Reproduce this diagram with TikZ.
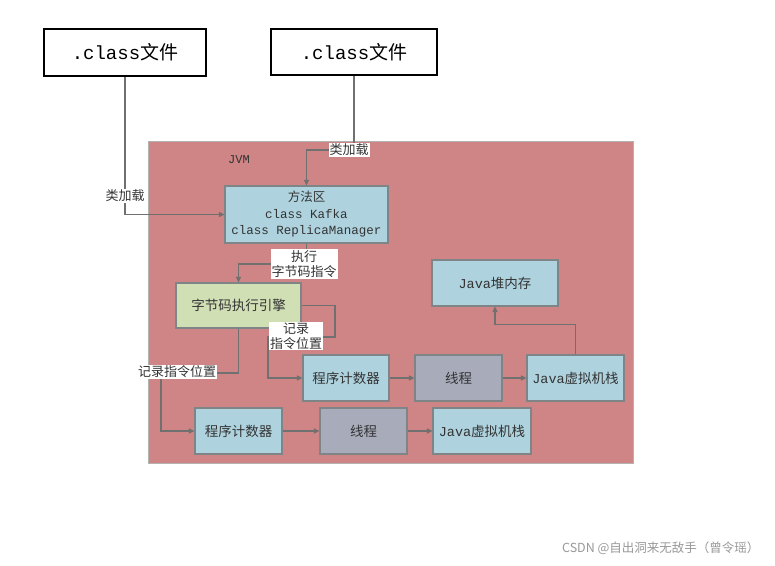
\documentclass[tikz,border=0pt]{standalone}
\usepackage{fontspec}
\setmonofont{Liberation Mono}
\newfontfamily\cjk{Noto Sans CJK SC}
\usetikzlibrary{arrows.meta,calc}
\definecolor{jvmred}{HTML}{CF8585}
\definecolor{lblue}{HTML}{AED3DF}
\definecolor{lgreen}{HTML}{D1DFB5}
\definecolor{lgrey}{HTML}{A8ABBA}
\definecolor{edge}{HTML}{7F8587}
\definecolor{arrc}{HTML}{707070}
\definecolor{txt}{HTML}{333333}
\newcommand\zh[1]{{\cjk #1}}
\newcommand\mo[1]{{\ttfamily #1}}
\tikzset{
  box/.style={draw=edge, line width=1.2pt, minimum height=46pt, inner sep=0pt,
    text=txt, font=\fontsize{13.5}{16}\selectfont, align=center},
  filebox/.style={draw=black, line width=2.8pt, fill=white, inner sep=0pt,
    font=\fontsize{19}{22}\selectfont},
  arr/.style={draw=arrc, line width=1.2pt, -{Triangle[length=5.5pt,width=5pt]}},
  lbl/.style={fill=white, inner sep=1pt, text=txt, align=center,
    font=\cjk\fontsize{13}{15}\selectfont},
}
\begin{document}
\begin{tikzpicture}[x=1pt,y=-1pt]
\useasboundingbox[fill=white] (0,0) rectangle (775,565);
% JVM area
\node[draw=gray!60, line width=0.8pt, fill=jvmred, minimum width=485pt, minimum height=322pt, inner sep=0pt] (jvm) at (390.5,302) {};
\node[text=txt, font=\ttfamily\fontsize{12}{14}\selectfont] (jvmlbl) at (239,160) {JVM};
% class files
\node[filebox, minimum width=162pt, minimum height=47pt] (c1) at (125,52.5) {\mo{.class}\zh{文件}};
\node[filebox, minimum width=166pt, minimum height=46pt] (c2) at (354,52) {\mo{.class}\zh{文件}};
% boxes
\node[box, fill=lblue, minimum width=163pt, minimum height=57pt, font=\fontsize{12.5}{16.5}\selectfont] (ff) at (306.5,214.5) {\zh{方法区}\\\mo{class Kafka}\\\mo{class ReplicaManager}};
\node[box, fill=lgreen, minimum width=125pt, minimum height=45pt] (eng) at (238.5,305.5) {\zh{字节码执行引擎}};
\node[box, fill=lblue, minimum width=126pt] (heap) at (495,283) {\mo{Java}\zh{堆内存}};
\node[box, fill=lblue, minimum width=86pt] (pc1) at (346,378) {\zh{程序计数器}};
\node[box, fill=lgrey, minimum width=87pt] (th1) at (458.5,378) {\zh{线程}};
\node[box, fill=lblue, minimum width=97pt] (st1) at (575.5,378) {\mo{Java}\zh{虚拟机栈}};
\node[box, fill=lblue, minimum width=87pt] (pc2) at (238.5,431) {\zh{程序计数器}};
\node[box, fill=lgrey, minimum width=87pt] (th2) at (363.5,431) {\zh{线程}};
\node[box, fill=lblue, minimum width=98pt] (st2) at (482,431) {\mo{Java}\zh{虚拟机栈}};
% helper coordinates
\coordinate (k2) at (354,150);
\coordinate (k3) at (306.5,264);
\coordinate (r1) at (335,337);
\coordinate (r2) at (268,337);
\coordinate (r3) at (161,373);
% connectors
\draw[arr] (c1.south) |- (ff.west);
\draw[arr] (c2.south) -- (k2) -| (ff.north);
\draw[arr] (ff.south) -- (k3) -| (eng.north);
\draw[arr] (eng.east) -| (r1) -- (r2) |- (pc1.west);
\draw[arr] (eng.south) |- (r3) |- (pc2.west);
\draw[arr] (pc1) -- (th1);
\draw[arr] (th1) -- (st1);
\draw[arr] (pc2) -- (th2);
\draw[arr] (th2) -- (st2);
\draw[arr] (st1.north) |- ($(heap.south)+(0,18)$) -- (heap.south);
% connector labels
\node[lbl] (l1) at (125,196) {类加载};
\node[lbl] (l2) at (349,150) {类加载};
\node[lbl] (l3) at (304,264) {执行\\字节码指令};
\node[lbl] (l4) at (296,336) {记录\\指令位置};
\node[lbl] (l5) at (177,372) {记录指令位置};
% watermark
\node[anchor=east, text=gray!80, font=\cjk\fontsize{12.5}{14}\selectfont] (wm) at (763,548) {CSDN @自出洞来无敌手（曾令瑶）};
\end{tikzpicture}
\end{document}
